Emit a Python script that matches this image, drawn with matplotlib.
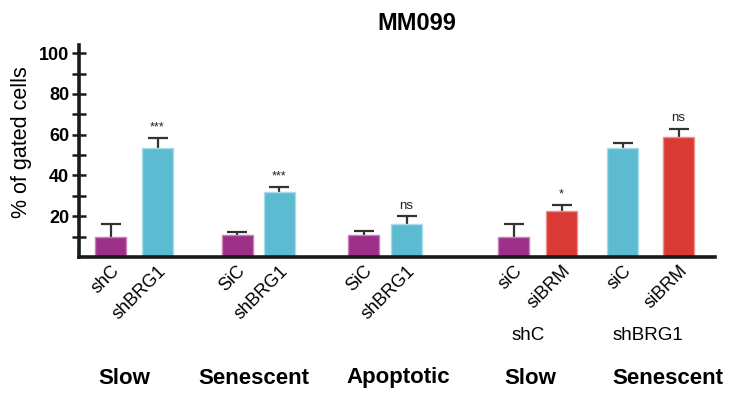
import numpy as np
import matplotlib.pyplot as plt

plt.rcParams['font.family'] = ['Liberation Sans', 'DejaVu Sans']

# data
bar_labels = ['shC', 'shBRG1', 'SiC', 'shBRG1', 'SiC', 'shBRG1',
              'siC', 'siBRM', 'siC', 'siBRM']
values = [10, 53.5, 11, 32, 11, 16, 10, 22.5, 53.5, 59]
errors = [6, 5, 1.5, 2.5, 1.7, 4, 6, 3, 2.5, 4]
signif = ['', '***', '', '***', '', 'ns', '', '*', '', 'ns']
groups = ['Slow', 'Senescent', 'Apoptotic', 'Slow', 'Senescent']
sub_groups = ['', '', '', 'shC', 'shBRG1']

purple, cyan, red = '#9c2f87', '#5dbbd1', '#d93a34'
colors = [purple, cyan, purple, cyan, purple, cyan, purple, red, cyan, red]
edges = ['#c77fb8', '#a9dde9', '#c77fb8', '#a9dde9', '#c77fb8', '#a9dde9',
         '#c77fb8', '#ee8f8b', '#a9dde9', '#ee8f8b']

# layout (x units ~ pixels from the y axis)
group_centers = [55, 179, 306, 458.5, 571.5]
pair_gap = [47, 42, 43, 48, 56]
group_label_x = [45, 175, 319, 451, 589]
sub_label_x = [0, 0, 0, 449, 569]

xpos = []
for c, g in zip(group_centers, pair_gap):
    xpos += [c - g / 2, c + g / 2]
xpos = np.array(xpos)

fig = plt.figure(figsize=(7.41, 3.98), dpi=100)
ax = fig.add_axes([79 / 741, 141 / 398, 636 / 741, 212 / 398])

ax.bar(xpos, values, width=31, color=colors, edgecolor=edges, linewidth=1, zorder=2)
eb = ax.errorbar(xpos, values, yerr=[np.zeros(len(values)), errors], fmt='none',
                 ecolor='#333333', elinewidth=1.6, capsize=7, capthick=1.6, zorder=1)
# only the upper caps
eb[1][0].set_visible(False)

for x, v, e, s in zip(xpos, values, errors, signif):
    if s:
        ax.annotate(s, (x, v + e), xytext=(0, 3), textcoords='offset points',
                    ha='center', va='bottom', fontsize=9.5 if s == 'ns' else 9,
                    color='#222222')

ax.set_xlim(0, 636)
ax.set_ylim(0, 104)

for side in ['top', 'right']:
    ax.spines[side].set_visible(False)
for side in ['left', 'bottom']:
    ax.spines[side].set_linewidth(2.6)
    ax.spines[side].set_color('#1a1a1a')

ax.set_yticks(range(10, 101, 10))
ax.set_yticklabels(['' if t % 20 else str(t) for t in range(10, 101, 10)],
                   fontsize=13, fontweight='bold')
ax.tick_params(axis='y', direction='inout', length=10, width=1.8,
               color='#1a1a1a', pad=2)

ax.set_xticks(xpos)
ax.set_xticklabels(bar_labels, rotation=45, ha='right', va='top',
                   rotation_mode='anchor', fontsize=13)
ax.tick_params(axis='x', length=0, pad=4)

fig.text(22 / 741, 1 - 142 / 398, '% of gated cells', rotation=90,
         ha='center', va='center', fontsize=15.5)
fig.text(417 / 741, 1 - 23 / 398, 'MM099', ha='center', va='center',
         fontsize=17, fontweight='bold')

tr = ax.get_xaxis_transform()
for gx, g in zip(group_label_x, groups):
    ax.text(gx, -121 / 212, g, transform=tr, ha='center', va='center',
            fontsize=16, fontweight='bold', clip_on=False)
for sx, s in zip(sub_label_x, sub_groups):
    if s:
        ax.text(sx, -78 / 212, s, transform=tr, ha='center', va='center',
                fontsize=13.5, clip_on=False)

fig.savefig('out.png', dpi=100)
